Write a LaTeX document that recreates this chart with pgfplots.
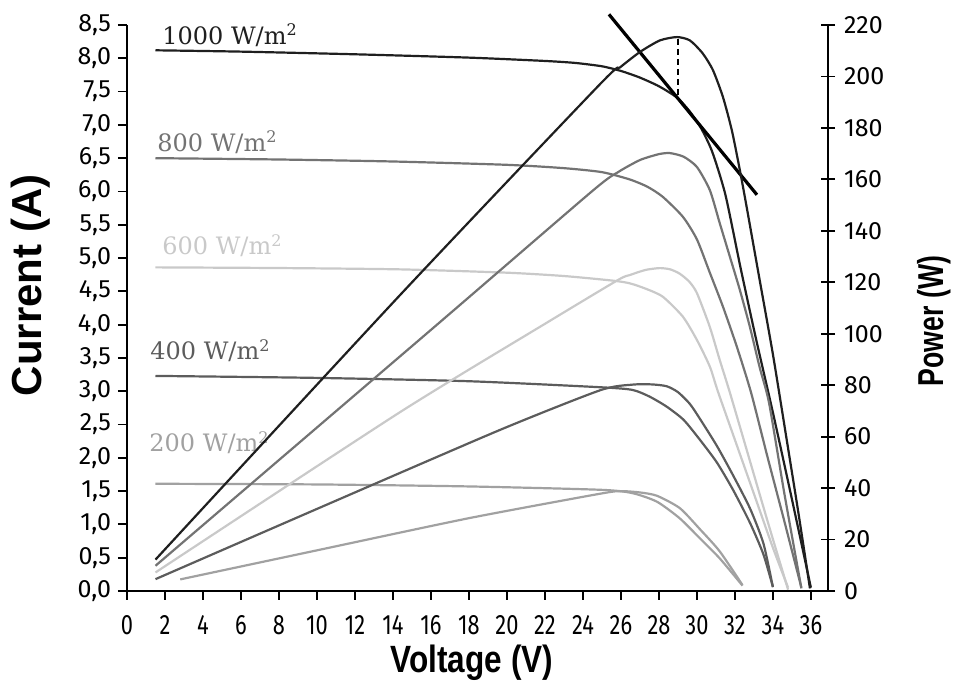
\documentclass[border=0pt]{standalone}
\usepackage{fontspec}
\usepackage{graphicx}
\usepackage{pgfplots}
\pgfplotsset{compat=1.18}
\setmainfont{Liberation Sans}
\newfontfamily\ytfont{Fira Sans}
\newfontfamily\xtfont[FakeStretch=0.78]{Fira Sans}
\newfontfamily\labfont{DejaVu Serif}
\definecolor{cA}{gray}{0.12}
\definecolor{cB}{gray}{0.45}
\definecolor{cC}{gray}{0.79}
\definecolor{cD}{gray}{0.36}
\definecolor{cE}{gray}{0.63}
\begin{document}
\begin{tikzpicture}
\pgfplotsset{
  base/.style={scale only axis, width=350.5pt, height=283pt,
    xmin=0, xmax=36.9, clip=false,
    axis line style={line width=1.1pt, black},
    major tick style={line width=0.9pt, black},
    /pgf/number format/assume math mode=true},
  curve/.style={smooth, tension=0.4, line width=1.1pt, no marks},
}
\begin{axis}[base, name=ax,
  ymin=0, ymax=8.5,
  axis x line*=bottom, axis y line*=left,
  xtick={0,2,...,36}, ytick={0,0.5,...,8.5},
  tick align=outside, major tick length=4.5pt,
  yticklabel style={font=\ytfont\fontsize{12.5}{12.5}\selectfont,
    /pgf/number format/.cd, fixed, fixed zerofill, precision=1, use comma},
  xticklabel style={font=\xtfont\fontsize{14}{14}\selectfont, yshift=-4pt},
  xlabel={\scalebox{0.83}[1]{Voltage (V)}}, ylabel={Current (A)},
  xlabel style={font=\bfseries\fontsize{19}{19}\selectfont, at={(axis description cs:0.492,-0.127)}, anchor=center},
  ylabel style={font=\bfseries\fontsize{21}{21}\selectfont, at={(axis description cs:-0.138,0.54)}, anchor=center},
]
% 1000 W/m2 current
\addplot[curve, color=cA] coordinates {(1.5,8.12) (6,8.10) (12,8.06) (18,8.01) (22,7.96) (23.6,7.93) (25,7.88) (26,7.81) (27,7.71) (28,7.58) (28.95,7.41) (29.6,7.21) (30.2,6.96) (30.8,6.6) (31.5,5.95) (32.3,4.85) (33.1,3.8) (34.0,2.68) (35.0,1.38) (36.0,0.05)};
% 800
\addplot[curve, color=cB] coordinates {(1.5,6.50) (8,6.48) (14,6.45) (20,6.40) (23,6.35) (25,6.29) (26.47,6.18) (27.4,6.07) (28.2,5.92) (29.26,5.62) (30.0,5.28) (30.68,4.78) (31.37,4.27) (32.1,3.67) (32.85,2.98) (33.7,2.03) (34.6,1.05) (35.5,0.05)};
% 600
\addplot[curve, color=cC] coordinates {(1.5,4.86) (8,4.85) (14.37,4.83) (20,4.78) (23,4.73) (25.6,4.66) (26.47,4.62) (27.3,4.54) (28.2,4.42) (29.26,4.12) (30.0,3.77) (30.68,3.37) (31.1,3.0) (32.0,2.27) (33.0,1.46) (34.0,0.65) (34.8,0.05)};
% 400
\addplot[curve, color=cD] coordinates {(1.5,3.23) (10,3.20) (18,3.15) (24.9,3.06) (26.6,3.02) (27.5,2.92) (28.4,2.77) (29.3,2.57) (30.16,2.27) (31.05,1.93) (31.9,1.52) (32.8,1.02) (33.5,0.55) (34.0,0.06)};
% 200
\addplot[curve, color=cE] coordinates {(1.5,1.61) (10,1.60) (18,1.57) (24.9,1.52) (26.6,1.47) (27.9,1.34) (29.1,1.09) (30.16,0.79) (31.2,0.49) (32.4,0.08)};
% tangent and MPP marker
\addplot[black, line width=1.6pt, no marks] coordinates {(25.37,8.66) (33.16,5.95)};
\addplot[black, line width=1.3pt, no marks, dash pattern=on 3pt off 2pt] coordinates {(29.0,8.29) (29.0,7.43)};
% labels
\node[anchor=base west, inner sep=0pt, text=cA, font=\labfont\fontsize{12}{12}\selectfont] at (axis cs:1.84,8.21) {1000 W/m\textsuperscript{2}};
\node[anchor=base west, inner sep=0pt, text=cB, font=\labfont\fontsize{12}{12}\selectfont] at (axis cs:1.58,6.60) {800 W/m\textsuperscript{2}};
\node[anchor=base west, inner sep=0pt, text=cC, font=\labfont\fontsize{12}{12}\selectfont] at (axis cs:1.84,5.05) {600 W/m\textsuperscript{2}};
\node[anchor=base west, inner sep=0pt, text=cD, font=\labfont\fontsize{12}{12}\selectfont] at (axis cs:1.21,3.47) {400 W/m\textsuperscript{2}};
\node[anchor=base west, inner sep=0pt, text=cE, font=\labfont\fontsize{12}{12}\selectfont] at (axis cs:1.16,2.09) {200 W/m\textsuperscript{2}};
\end{axis}
\begin{axis}[base,
  ymin=0, ymax=220,
  axis x line=none, axis y line*=right,
  ytick={0,20,...,220},
  tick align=center, major tick length=7pt,
  yticklabel style={font=\ytfont\fontsize{12.5}{12.5}\selectfont, xshift=1pt},
  ylabel={\scalebox{0.74}[1]{Power (W)}},
  ylabel style={font=\bfseries\fontsize{18}{18}\selectfont, at={(axis description cs:1.151,0.477)}, anchor=center, rotate=0},
]
\addplot[curve, color=cA] coordinates {(1.5,12.2) (14.37,115) (24.9,197) (25.95,203.5) (27,209.5) (28.05,214) (28.95,215.3) (29.63,214) (30.3,209) (30.84,202.5) (31.37,192) (31.84,179) (32.26,163.6) (32.6,150) (33.3,121) (34.0,92) (34.7,60) (35.35,30) (35.95,1)};
\addplot[curve, color=cB] coordinates {(1.5,9.8) (16.6,105.3) (24.5,155.5) (25.85,162.8) (27,167.5) (28.0,169.8) (28.58,170.2) (29.3,168.8) (30.0,164.8) (30.68,155.8) (31.2,143) (31.74,129.8) (32.26,117) (32.79,102.6) (33.3,87) (33.8,73) (34.6,38) (35.5,1)};
\addplot[curve, color=cC] coordinates {(1.5,7.2) (14.37,69.5) (22.26,105) (25.85,120.9) (26.47,122.8) (27.3,124.8) (28.05,125.5) (28.6,125.0) (29.1,123.3) (29.6,120.2) (30.0,115.8) (30.68,102.6) (31.2,89.8) (31.74,77) (32.8,50.3) (33.8,25.1) (34.8,0.5)};
\addplot[curve, color=cD] coordinates {(1.5,4.6) (10,31.9) (19.6,62.5) (24.9,78.0) (26.6,80.2) (27.6,80.3) (28.4,79.6) (29.0,77.3) (29.63,72.7) (30.16,66.9) (31.05,56.4) (31.9,45.0) (32.8,32.0) (33.5,18.5) (34.0,1.5)};
\addplot[curve, color=cE] coordinates {(2.8,4.5) (10,15.8) (18,28.3) (24.9,37.8) (26.0,38.8) (27.0,38.3) (27.9,37.0) (29.1,32.2) (30.16,24.0) (31.2,15.4) (32.4,2.3)};
\end{axis}
\pgfresetboundingbox
\path ([xshift=-63.5pt,yshift=-47.5pt]ax.south west) rectangle ([xshift=63pt,yshift=12.5pt]ax.north east);
\end{tikzpicture}
\end{document}
